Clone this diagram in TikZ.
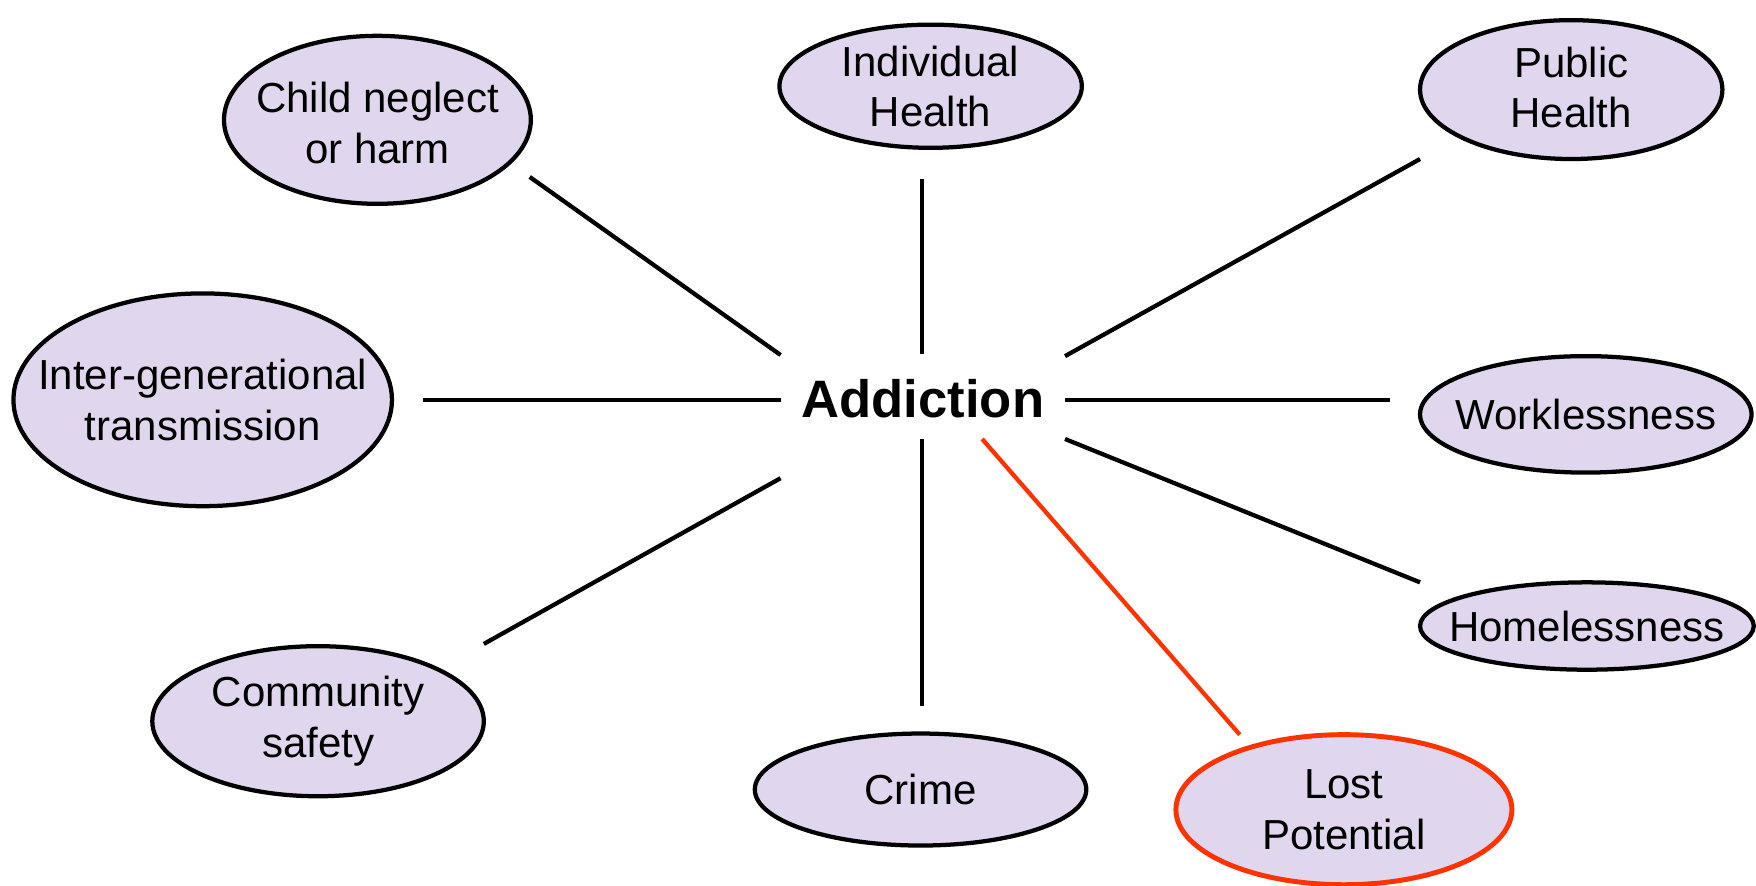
\documentclass[tikz,border=0pt]{standalone}
\usepackage{fontspec}
\setmainfont{Liberation Sans}
\usetikzlibrary{shapes.geometric}
\definecolor{lav}{HTML}{E0D7EE}
\definecolor{redl}{HTML}{FF3300}
\begin{document}
\begin{tikzpicture}[x=0.5pt,y=-0.5pt,
  bubble/.style={ellipse, draw=black, line width=1.9pt, fill=lav, inner sep=0pt},
  hot/.style={draw=redl, line width=2.2pt},
  txt/.style={align=center, font=\fontsize{18.75}{22.5}\selectfont},
  link/.style={line width=1.9pt},
  redlink/.style={line width=1.9pt, draw=redl}]
\useasboundingbox (0,0) rectangle (1568,791);
% bubbles
\node[bubble, minimum width=137pt, minimum height=75pt] (child) at (337,107) {};
\node[bubble, minimum width=135pt, minimum height=55pt] (indiv) at (831,77) {};
\node[bubble, minimum width=135pt, minimum height=62pt] (public) at (1403,80) {};
\node[bubble, minimum width=169pt, minimum height=95pt] (inter) at (181,357) {};
\node[bubble, minimum width=148pt, minimum height=52pt] (work) at (1416,370) {};
\node[bubble, minimum width=149pt, minimum height=39pt] (home) at (1417,559) {};
\node[bubble, minimum width=148pt, minimum height=67pt] (comm) at (284,644) {};
\node[bubble, minimum width=148pt, minimum height=50pt] (crime) at (822,705) {};
\node[bubble, hot, minimum width=150pt, minimum height=67pt] (lost) at (1200,723) {};
% texts
\node[txt] (childT) at (337,110) {Child neglect\\or harm};
\node[txt] (indivT) at (indiv) {Individual\\Health};
\node[txt] (publicT) at (1403,78) {Public\\Health};
\node[txt] (interT) at (inter) {Inter-generational\\transmission};
\node[txt] (workT) at (work) {Worklessness};
\node[txt] (homeT) at (home) {Homelessness};
\node[txt] (commT) at (comm) {Community\\safety};
\node[txt] (crimeT) at (crime) {Crime};
\node[txt] (lostT) at (lost) {Lost\\Potential};
\node[font=\fontsize{23.5}{28}\selectfont\bfseries] (add) at (824,356) {Addiction};
% connector ends
\coordinate (a1) at (697,317);  \coordinate (b1) at (473,158);
\coordinate (a2) at (823,316);  \coordinate (b2) at (823,160);
\coordinate (a3) at (951,318);  \coordinate (b3) at (1268,142);
\coordinate (a4) at (697,357);  \coordinate (b4) at (378,357);
\coordinate (a5) at (951,357);  \coordinate (b5) at (1241,357);
\coordinate (a6) at (951,392);  \coordinate (b6) at (1268,520);
\coordinate (a7) at (697,427);  \coordinate (b7) at (432,575);
\coordinate (a8) at (823,392);  \coordinate (b8) at (823,630);
\coordinate (a9) at (877,392);  \coordinate (b9) at (1107,656);
\draw[link] (a1) -- (b1);
\draw[link] (a2) -- (b2);
\draw[link] (a3) -- (b3);
\draw[link] (a4) -- (b4);
\draw[link] (a5) -- (b5);
\draw[link] (a6) -- (b6);
\draw[link] (a7) -- (b7);
\draw[link] (a8) -- (b8);
\draw[redlink] (a9) -- (b9);
\end{tikzpicture}
\end{document}
